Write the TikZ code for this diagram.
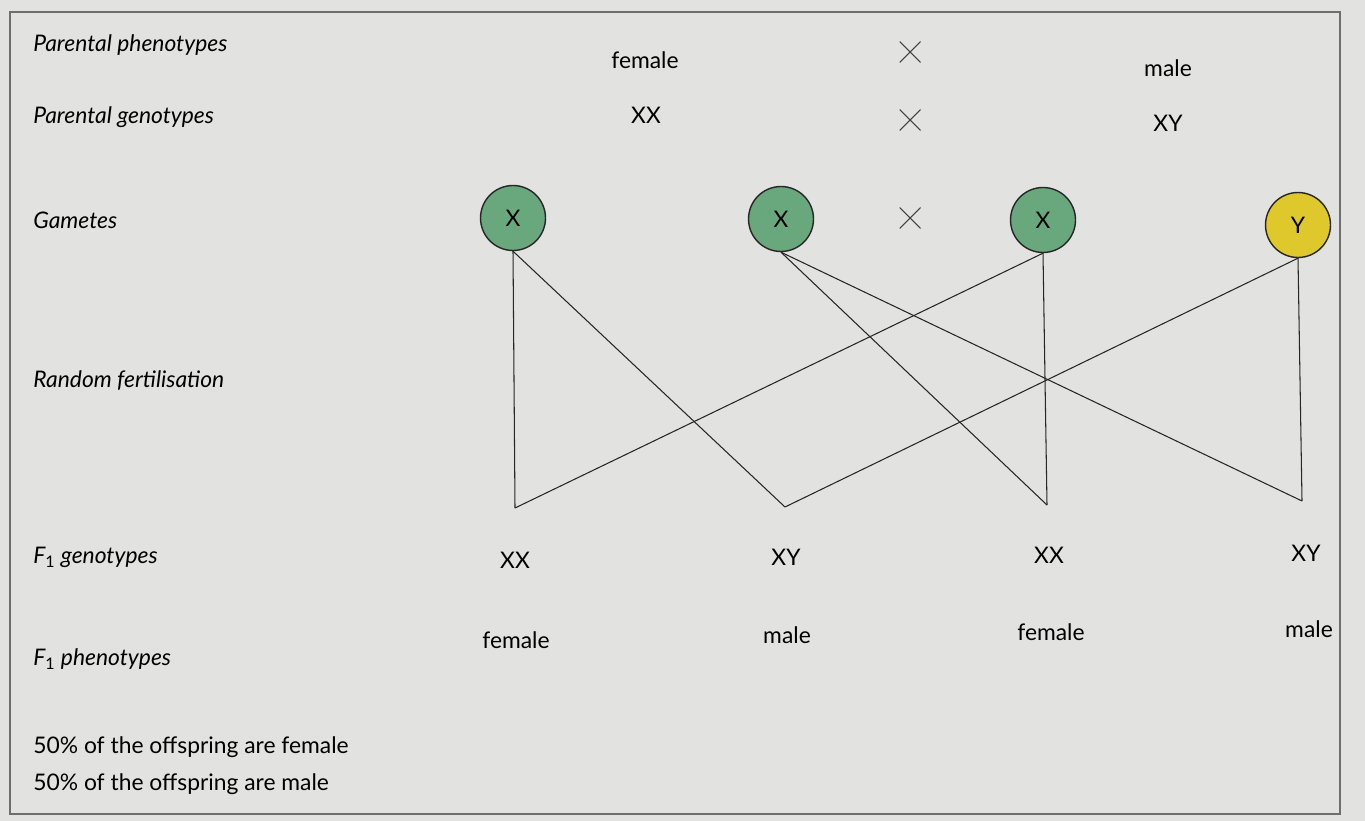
\documentclass[tikz,border=0pt]{standalone}
\usepackage{fontspec}
\setmainfont{Lato}
\usepackage{xcolor}
\definecolor{paper}{RGB}{226,226,224}
\definecolor{frameline}{RGB}{110,110,110}
\definecolor{gametegreen}{RGB}{104,168,124}
\definecolor{gameteyellow}{RGB}{222,200,44}
\begin{document}
\begin{tikzpicture}[
    x=0.02cm, y=-0.02cm,
    rowlabel/.style={anchor=west, font=\itshape\fontsize{13}{15}\selectfont, inner sep=0pt},
    plain/.style={font=\fontsize{13}{15}\selectfont, inner sep=1pt},
    crosssign/.style={minimum size=0.42cm, inner sep=0pt,
        path picture={\draw[black!75, semithick] (path picture bounding box.north west) -- (path picture bounding box.south east)
                      (path picture bounding box.south west) -- (path picture bounding box.north east);}},
    gamete/.style={circle, draw=black!85, thick, minimum size=1.3cm, inner sep=0pt, font=\fontsize{13}{15}\selectfont},
    fertline/.style={draw=black!85, semithick}
]
\useasboundingbox (0,0) rectangle (1365,821);
\fill[paper] (0,0) rectangle (1365,821);
\draw[frameline, thick] (10,12) rectangle (1340,814);

% ==================== ROW LABELS ====================
\node[rowlabel] (lab_pp) at (33,45) {Parental phenotypes};
\node[rowlabel] (lab_pg) at (33,117) {Parental genotypes};
\node[rowlabel] (lab_ga) at (33,220) {Gametes};
\node[rowlabel] (lab_rf) at (33,381) {Random fertilisation};
\node[rowlabel] (lab_fg) at (33,557) {F\textsubscript{\upshape 1} genotypes};
\node[rowlabel] (lab_fp) at (33,659) {F\textsubscript{\upshape 1} phenotypes};
\node[rowlabel, font=\fontsize{13}{15}\selectfont] (lab_s1) at (33,747) {50\% of the offspring are female};
\node[rowlabel, font=\fontsize{13}{15}\selectfont] (lab_s2) at (33,784) {50\% of the offspring are male};

% ==================== PARENTS ====================
\node[plain] (par_fp) at (645,60) {female};
\node[crosssign] (cross1) at (910,52) {};
\node[plain] (par_mp) at (1168,68) {male};
\node[plain] (par_fg) at (646,115) {XX};
\node[crosssign] (cross2) at (910,120) {};
\node[plain] (par_mg) at (1168,123) {XY};

% ==================== GAMETES ====================
\node[gamete, fill=gametegreen] (gam_x1) at (513,218) {X};
\node[gamete, fill=gametegreen] (gam_x2) at (781,219) {X};
\node[crosssign] (cross3) at (910,218) {};
\node[gamete, fill=gametegreen] (gam_x3) at (1043,220) {X};
\node[gamete, fill=gameteyellow] (gam_y) at (1298,225) {Y};

% ==================== FERTILISATION ====================
\coordinate (zyg1) at (515,508);
\coordinate (zyg2) at (785,507);
\coordinate (zyg3) at (1047,505);
\coordinate (zyg4) at (1302,501);

\draw[fertline] (gam_x1.south) -- (zyg1);
\draw[fertline] (gam_x1.south) -- (zyg2);
\draw[fertline] (gam_x2.south) -- (zyg3);
\draw[fertline] (gam_x2.south) -- (zyg4);
\draw[fertline] (gam_x3.south) -- (zyg1);
\draw[fertline] (gam_x3.south) -- (zyg3);
\draw[fertline] (gam_y.south) -- (zyg2);
\draw[fertline] (gam_y.south) -- (zyg4);

% ==================== OFFSPRING ====================
\node[plain] (off_g1) at (515,560) {XX};
\node[plain] (off_g2) at (786,557) {XY};
\node[plain] (off_g3) at (1049,555) {XX};
\node[plain] (off_g4) at (1306,553) {XY};

\node[plain] (off_p1) at (516,640) {female};
\node[plain] (off_p2) at (787,635) {male};
\node[plain] (off_p3) at (1051,632) {female};
\node[plain] (off_p4) at (1309,629) {male};

\end{tikzpicture}
\end{document}
